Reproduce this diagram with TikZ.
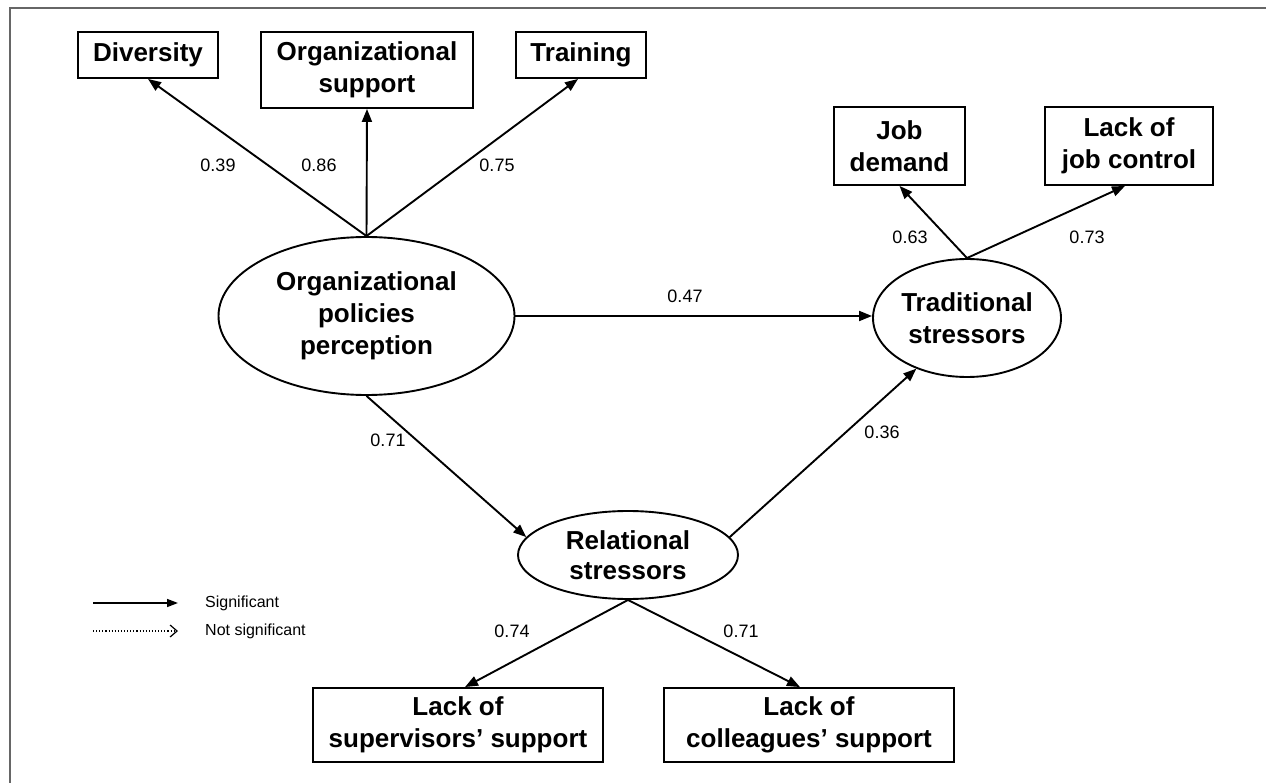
\documentclass[tikz,border=0pt]{standalone}
\usepackage{fontspec}
\setmainfont{Liberation Sans}
\usetikzlibrary{arrows.meta,shapes.geometric,calc}
\tikzset{
  box/.style={draw, line width=1.9pt, inner sep=0pt, align=center, font=\fontsize{26}{32}\selectfont\bfseries},
  lat/.style={draw, ellipse, line width=1.9pt, inner sep=0pt, align=center, font=\fontsize{26}{32}\selectfont\bfseries},
  arr/.style={line width=1.9pt, -{Triangle[length=13pt,width=10pt]}},
  lbl/.style={font=\fontsize{18}{20}\selectfont, inner sep=0pt},
  leg/.style={font=\fontsize{16}{18}\selectfont, anchor=west, inner sep=0pt}
}
\begin{document}
\begin{tikzpicture}[x=1pt,y=-1pt]
\useasboundingbox (0,0) rectangle (1266,783);
\fill[white] (0,0) rectangle (1266,783);
% frame
\coordinate (ftr) at (1266,8);
\coordinate (ftl) at (10,8);
\coordinate (fbl) at (10,783);
\draw[line width=2.5pt, draw={rgb,255:red,102;green,102;blue,102}] (ftr) -- (ftl) -- (fbl);
% boxes
\node[box, minimum width=140pt, minimum height=46pt] (div) at (148,55) {Diversity};
\node[box, minimum width=212pt, minimum height=76pt] (osup) at (367,70) {Organizational\\support};
\node[box, minimum width=130pt, minimum height=46pt] (train) at (581,55) {Training};
\node[box, minimum width=131pt, minimum height=78pt] (jd) at (899.5,146) {Job\\demand};
\node[box, minimum width=168pt, minimum height=78pt] (ljc) at (1129,146) {Lack of\\job control};
\node[box, minimum width=290pt, minimum height=74pt] (sup) at (458,725) {Lack of\\supervisors’ support};
\node[box, minimum width=290pt, minimum height=74pt] (col) at (809,725) {Lack of\\colleagues’ support};
% latent
\node[lat, minimum width=296pt, minimum height=158pt] (org) at (366.5,316) {Organizational\\policies\\perception};
\node[lat, minimum width=188pt, minimum height=118pt] (trad) at (967,318) {Traditional\\stressors};
\node[lat, minimum width=220pt, minimum height=88pt, font=\fontsize{26}{30}\selectfont\bfseries] (rel) at (628,555) {Relational\\stressors};
% arrows
\draw[arr] (org.north) -- (div.south);
\draw[arr] (org.north) -- (osup.south);
\draw[arr] (org.north) -- ($(train.south)+(-3,0)$);
\draw[arr] (org.east) -- (org.east -| trad.west);
\draw[arr] (org.south) -- (rel.170);
\draw[arr] (rel.10) -- (trad.225);
\draw[arr] (trad.north) -- (jd.south);
\draw[arr] (trad.north) -- ($(ljc.south)+(-4,0)$);
\draw[arr] (rel.south) -- ($(sup.north)+(7,0)$);
\draw[arr] (rel.south) -- ($(col.north)+(-9,0)$);
% labels
\node[lbl] (l1) at (218,165) {0.39};
\node[lbl] (l2) at (319,165) {0.86};
\node[lbl] (l3) at (497,165) {0.75};
\node[lbl] (l4) at (685,296) {0.47};
\node[lbl] (l5) at (388,440) {0.71};
\node[lbl] (l6) at (882,432) {0.36};
\node[lbl] (l7) at (910,237) {0.63};
\node[lbl] (l8) at (1087,237) {0.73};
\node[lbl] (l9) at (512,631) {0.74};
\node[lbl] (l10) at (741,631) {0.71};
% legend
\coordinate (s1) at (93,603);
\coordinate (s2) at (178,603);
\coordinate (n1) at (93,631);
\coordinate (n2) at (178,631);
\draw[line width=1.5pt, -{Triangle[length=11pt,width=8pt]}] (s1) -- (s2);
\draw[line width=1.1pt, dotted, -{Straight Barb[length=7pt,width=12pt,line width=1.2pt]}] (n1) -- (n2);
\node[leg] (ls) at (205,603) {Significant};
\node[leg] (ln) at (205,631) {Not significant};
\end{tikzpicture}
\end{document}
